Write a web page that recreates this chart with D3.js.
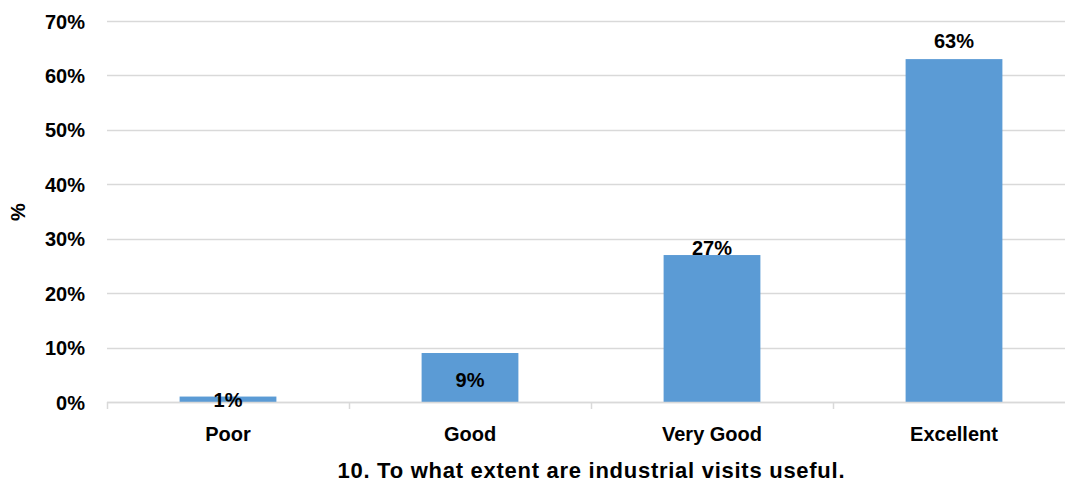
<!DOCTYPE html>
<html><head><meta charset="utf-8">
<script src="https://cdn.jsdelivr.net/npm/d3@7"></script>
<style>
html,body{margin:0;padding:0;background:#fff;}
text{font-family:"Liberation Sans",Arial,sans-serif;font-weight:bold;fill:#000;}
</style></head>
<body>
<svg id="chart" width="1065" height="486"></svg>
<script>
const categories = ["Poor", "Good", "Very Good", "Excellent"];
const values = [1, 9, 27, 63];
const yTicks = [0, 10, 20, 30, 40, 50, 60, 70];
const xTitle = "10. To what extent are industrial visits useful.";
const yTitle = "%";
// label vertical offsets relative to bar top (style only)
const labelDy = [10, 34, 0, -11];

(function () {
const svg = d3.select("#chart");
const pLeft = 107, pRight = 1075, pTop = 21, pBottom = 402;

const x = d3.scaleBand().domain(categories).range([pLeft, pRight]).paddingInner(0.6).paddingOuter(0.3);
const y = d3.scaleLinear().domain([0, 70]).range([pBottom, pTop]);

// gridlines
svg.append("g").selectAll("line").data(yTicks).join("line")
  .attr("x1", pLeft).attr("x2", pRight)
  .attr("y1", d => Math.round(y(d)) + 0.5).attr("y2", d => Math.round(y(d)) + 0.5)
  .attr("stroke", "#d9d9d9").attr("stroke-width", 1.5);

// y axis labels
const yAxis = d3.axisLeft(y).tickValues(yTicks).tickFormat(d => d + "%").tickSize(0).tickPadding(22);
const gy = svg.append("g").attr("transform", `translate(${pLeft},0)`).call(yAxis);
gy.select(".domain").remove();
gy.selectAll("text").attr("font-size", 20).attr("font-family", null).attr("dy", "0.35em");

// bars
svg.append("g").selectAll("rect").data(values).join("rect")
  .attr("x", (d, i) => x(categories[i]))
  .attr("width", x.bandwidth())
  .attr("y", d => y(d))
  .attr("height", d => y(0) - y(d))
  .attr("fill", "#5b9bd5");

// x axis
const step = x.step();
const xAxis = d3.axisBottom(x).tickSize(0).tickPadding(25);
const gx = svg.append("g").attr("transform", `translate(0,${pBottom})`).call(xAxis);
gx.select(".domain").remove();
gx.selectAll("text").attr("font-size", 20).attr("font-family", null).attr("dy", "0.71em");
// category separators
const seps = d3.range(categories.length + 1).map(i => pLeft + i * step);
svg.append("g").selectAll("line").data(seps).join("line")
  .attr("x1", d => Math.round(d) + 0.5).attr("x2", d => Math.round(d) + 0.5)
  .attr("y1", pBottom).attr("y2", pBottom + 7)
  .attr("stroke", "#d9d9d9").attr("stroke-width", 1.5);
svg.append("line").attr("x1", pLeft).attr("x2", pRight)
  .attr("y1", pBottom + 0.5).attr("y2", pBottom + 0.5)
  .attr("stroke", "#d9d9d9").attr("stroke-width", 1.5);

// data labels
svg.append("g").selectAll("text").data(values).join("text")
  .attr("x", (d, i) => x(categories[i]) + x.bandwidth() / 2)
  .attr("y", (d, i) => y(d) + labelDy[i])
  .attr("text-anchor", "middle").attr("font-size", 20)
  .text(d => d + "%");

// titles
svg.append("text").attr("x", (pLeft + pRight) / 2).attr("y", 478)
  .attr("text-anchor", "middle").attr("font-size", 22)
  .attr("textLength", 507).attr("lengthAdjust", "spacing").text(xTitle);
svg.append("text").attr("transform", `translate(25,212) rotate(-90)`)
  .attr("text-anchor", "middle").attr("font-size", 20).text(yTitle);
})();
</script>
</body></html>
